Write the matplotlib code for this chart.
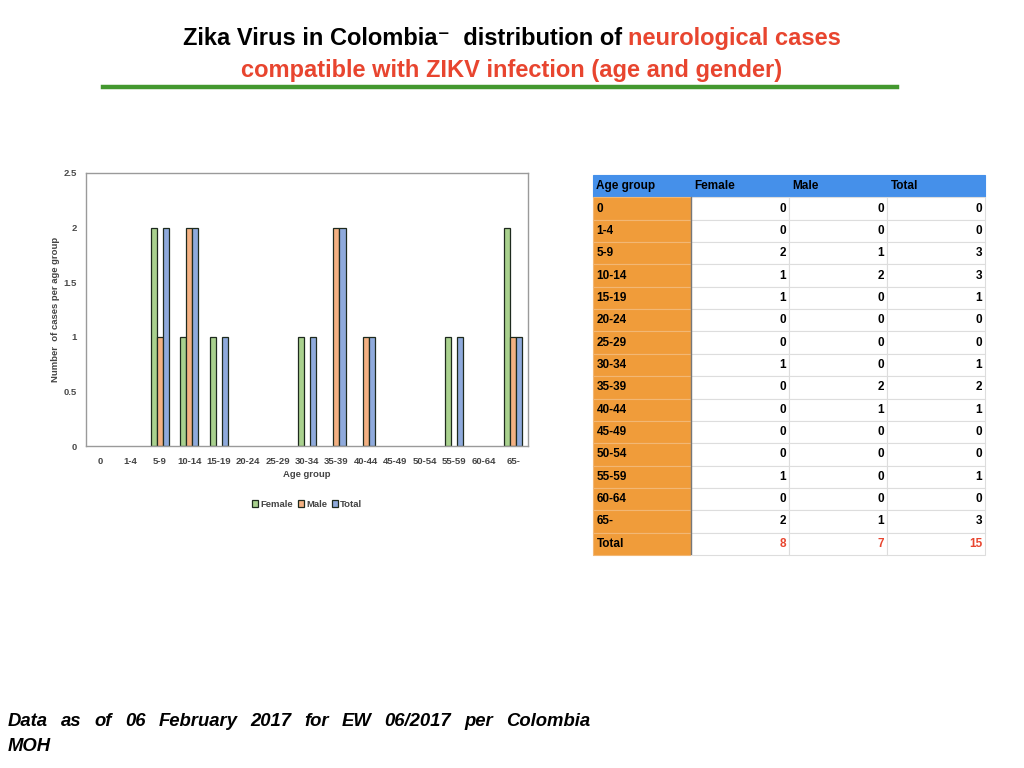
import matplotlib
matplotlib.use("Agg")
import matplotlib.pyplot as plt
import numpy as np

# ---- data ----
age_groups = ["0", "1-4", "5-9", "10-14", "15-19", "20-24", "25-29", "30-34",
              "35-39", "40-44", "45-49", "50-54", "55-59", "60-64", "65-"]
# values as drawn in the bar chart
chart_female = [0, 0, 2, 1, 1, 0, 0, 1, 0, 0, 0, 0, 1, 0, 2]
chart_male   = [0, 0, 1, 2, 0, 0, 0, 0, 2, 1, 0, 0, 0, 0, 1]
chart_total  = [0, 0, 2, 2, 1, 0, 0, 1, 2, 1, 0, 0, 1, 0, 1]
# values in the table
table_female = [0, 0, 2, 1, 1, 0, 0, 1, 0, 0, 0, 0, 1, 0, 2]
table_male   = [0, 0, 1, 2, 0, 0, 0, 0, 2, 1, 0, 0, 0, 0, 1]
table_total  = [0, 0, 3, 3, 1, 0, 0, 1, 2, 1, 0, 0, 1, 0, 3]
table_header = ["Age group", "Female", "Male", "Total"]
sum_female, sum_male, sum_total = 8, 7, 15
y_ticks = [0, 0.5, 1, 1.5, 2, 2.5]

W, H = 1024, 768
fig = plt.figure(figsize=(W / 100, H / 100), dpi=100)
fig.patch.set_facecolor("white")

SANS = ["Liberation Sans", "DejaVu Sans"]
RED = "#e8452f"

fig.canvas.draw()
renderer = fig.canvas.get_renderer()

# ---- title ----
def colored_line(parts, y, size):
    texts = []
    for s, c in parts:
        t = fig.text(0, y, s, color=c, fontsize=size, fontweight="bold",
                     family=SANS, ha="left", va="baseline")
        texts.append(t)
    widths = [t.get_window_extent(renderer).width for t in texts]
    total = sum(widths)
    x = (W - total) / 2
    for t, w in zip(texts, widths):
        t.set_x(x / W)
        x += w

colored_line([("Zika Virus in Colombia\u207b  distribution of ", "black"),
              ("neurological cases", RED)], 1 - 45 / H, 17)
colored_line([("compatible with ZIKV infection (age and gender)", RED)], 1 - 77 / H, 17)

fig.add_artist(plt.Line2D([103 / W, 897 / W], [1 - 87 / H, 1 - 87 / H],
                          color="#43982f", lw=3.2, transform=fig.transFigure))

# ---- bar chart ----
ax = fig.add_axes([86 / W, 1 - 446 / H, (528 - 86) / W, (446 - 173) / H])
x = np.arange(len(age_groups))
bw = 0.205
cols = ["#a9d18e", "#f4b183", "#8faadc"]
names = ["Female", "Male", "Total"]
for i, (vals, c, n) in enumerate(zip([chart_female, chart_male, chart_total], cols, names)):
    vals = np.asarray(vals, dtype=float)
    keep = vals > 0
    ax.bar(x[keep] + (i - 1) * bw, vals[keep], bw, color=c, edgecolor="#1e2a1e",
           linewidth=0.9, label=n)
ax.set_xlim(-0.5, len(age_groups) - 0.5)
ax.set_ylim(0, 2.5)
ax.set_yticks(y_ticks)
ax.set_yticklabels(["0", "0.5", "1", "1.5", "2", "2.5"])
ax.set_xticks(x)
ax.set_xticklabels(age_groups)
ax.tick_params(axis="x", length=0, labelsize=6.8, labelcolor="#444444", pad=8)
ax.tick_params(axis="y", length=0, labelsize=6.8, labelcolor="#4a4a4a", pad=6.5)
for lab in ax.get_xticklabels() + ax.get_yticklabels():
    lab.set_fontweight("bold")
    lab.set_family(SANS)
for s in ax.spines.values():
    s.set_color("#9a9a9a")
    s.set_linewidth(1.0)
ax.set_xlabel("Age group", fontsize=6.8, color="#444444", fontweight="bold",
              labelpad=3, family=SANS)
ax.set_ylabel("Number  of cases per age group", fontsize=6.8, color="#444444",
              fontweight="bold", labelpad=2.5, family=SANS)
leg = ax.legend(loc="upper center", bbox_to_anchor=(0.5, -0.165), ncol=3, frameon=False,
                prop={"family": SANS, "size": 6.8, "weight": "bold"},
                handlelength=0.7, handleheight=0.7, handletextpad=0.2,
                columnspacing=0.5)
for t in leg.get_texts():
    t.set_color("#444444")

# ---- table ----
tx0, tx1, ty0, ty1 = 593, 985, 175, 555
tab_ax = fig.add_axes([tx0 / W, 1 - ty1 / H, (tx1 - tx0) / W, (ty1 - ty0) / H])
tab_ax.axis("off")
rows = [[g, str(f), str(m), str(t)] for g, f, m, t in
        zip(age_groups, table_female, table_male, table_total)]
rows.append(["Total", str(sum_female), str(sum_male), str(sum_total)])
cell_text = [table_header] + rows
tbl = tab_ax.table(cellText=cell_text, bbox=[0, 0, 1, 1], cellLoc="right",
                   colWidths=[98, 98, 98, 98])
tbl.auto_set_font_size(False)
tbl.set_fontsize(8.5)
nrows = len(cell_text)
for (r, c), cell in tbl.get_celld().items():
    txt = cell.get_text()
    txt.set_fontproperties({"family": SANS, "weight": "bold", "size": 8.5})
    cell.set_edgecolor("#dddddd")
    cell.set_linewidth(0.8)
    if r == 0:
        cell.set_facecolor("#4590ea")
        cell.set_edgecolor("#4590ea")
        txt.set_ha("left")
        cell.PAD = 0.035
    elif c == 0:
        cell.set_facecolor("#f09c3a")
        cell.set_edgecolor("#f2b774")
        txt.set_ha("left")
        cell.PAD = 0.035
    else:
        cell.set_facecolor("white")
        cell.PAD = 0.03
    if r == nrows - 1 and c > 0:
        txt.set_color(RED)
    txt.set_va("center")
tab_ax.plot([98 / 392, 98 / 392], [0, 1 - 22 / 380], color="#777777", lw=1.0,
            transform=tab_ax.transAxes)

# ---- footer ----
footer_words = ["Data", "as", "of", "06", "February", "2017", "for", "EW",
                "06/2017", "per", "Colombia"]
ws = []
for w in footer_words:
    t = fig.text(0, 1 - 726 / H, w, fontsize=13.3, fontweight="bold", style="italic",
                 family=SANS, va="baseline", ha="left")
    ws.append(t)
widths = [t.get_window_extent(renderer).width for t in ws]
gap = ((590 - 8) - sum(widths)) / (len(ws) - 1)
xx = 8
for t, w in zip(ws, widths):
    t.set_x(xx / W)
    xx += w + gap
fig.text(8 / W, 1 - 751 / H, "MOH", fontsize=13.3, fontweight="bold", style="italic",
         family=SANS, va="baseline", ha="left")

fig.savefig("out.png", dpi=100)
